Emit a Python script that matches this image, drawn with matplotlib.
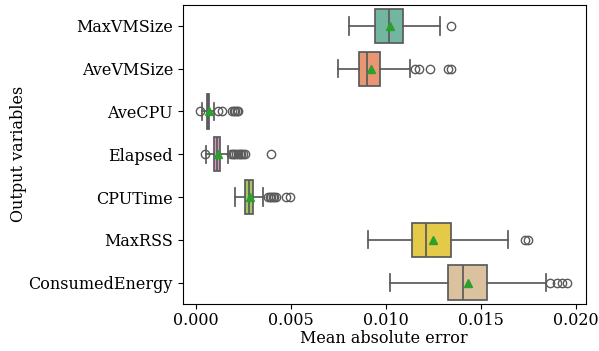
import matplotlib
matplotlib.use("Agg")
from matplotlib import pyplot as plt
import seaborn as sns

# box statistics
variables = ["MaxVMSize", "AveVMSize", "AveCPU", "Elapsed", "CPUTime", "MaxRSS", "ConsumedEnergy"]
whislo = [0.008061, 0.007463, 0.000298, 0.000494, 0.002042, 0.009021, 0.010188]
q1 = [0.009393, 0.008588, 0.000566, 0.000928, 0.002579, 0.011375, 0.013244]
med = [0.010147, 0.009011, 0.000628, 0.001072, 0.002776, 0.012119, 0.014049]
q3 = [0.010859, 0.009693, 0.000690, 0.001248, 0.003003, 0.013430, 0.015329]
whishi = [0.012841, 0.011272, 0.000948, 0.001691, 0.003529, 0.016403, 0.018437]
means = [0.010188, 0.009218, 0.000669, 0.001124, 0.002827, 0.012470, 0.014328]
fliers = [
    [0.013419],
    [0.011540, 0.011716, 0.012294, 0.013254, 0.013399],
    [0.000195, 0.001165, 0.001340, 0.001867, 0.001960, 0.002063, 0.002146, 0.002218],
    [0.000463, 0.001836, 0.001919, 0.002001, 0.002084, 0.002197, 0.002290, 0.002373,
     0.002476, 0.002579, 0.003921],
    [0.003798, 0.003880, 0.003952, 0.004025, 0.004107, 0.004190, 0.004727, 0.004913],
    [0.017312, 0.017487],
    [0.018633, 0.018984, 0.019242, 0.019511],
]

plt.rcParams["font.family"] = "DejaVu Serif"
plt.rcParams["font.size"] = 11.5

stats = []
for i in range(len(variables)):
    stats.append(dict(label=variables[i], whislo=whislo[i], q1=q1[i], med=med[i],
                      q3=q3[i], whishi=whishi[i], mean=means[i], fliers=fliers[i]))

colors = sns.color_palette("Set2", len(variables), desat=0.75)
gray = "#5a5a5a"

fig = plt.figure(figsize=(5.99, 3.51), dpi=100)
ax = fig.add_axes([0.305, 0.134, 0.673, 0.853])

res = ax.bxp(stats, positions=range(len(variables)), widths=0.8, orientation="horizontal",
             showmeans=True, patch_artist=True,
             boxprops=dict(edgecolor=gray, linewidth=1.25),
             whiskerprops=dict(color=gray, linewidth=1.25),
             capprops=dict(color=gray, linewidth=1.25),
             medianprops=dict(color=gray, linewidth=1.25),
             flierprops=dict(marker="o", markerfacecolor="none", markeredgecolor=gray,
                             markersize=6, markeredgewidth=1),
             meanprops=dict(marker="^", markerfacecolor="#2ca02c", markeredgecolor="#2ca02c",
                            markersize=6))
for box, c in zip(res["boxes"], colors):
    box.set_facecolor(c)

ax.set_ylim(len(variables) - 0.5, -0.5)
ax.set_xlim(-0.000716, 0.02051)
ax.set_xticks([0.000, 0.005, 0.010, 0.015, 0.020])
ax.set_xticklabels(["0.000", "0.005", "0.010", "0.015", "0.020"])
ax.set_yticks(range(len(variables)))
ax.set_yticklabels(variables)
ax.tick_params(axis="x", pad=2)
ax.set_xlabel("Mean absolute error", labelpad=1)
ax.set_ylabel("Output variables", labelpad=1)

fig.savefig("out.png", dpi=100)
